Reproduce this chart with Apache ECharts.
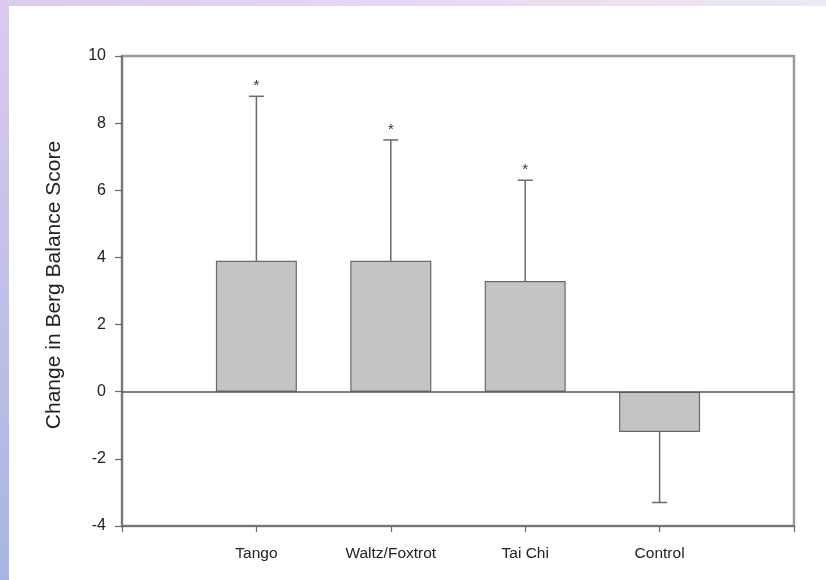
<!DOCTYPE html>
<html>
<head>
<meta charset="utf-8">
<script src="https://cdn.jsdelivr.net/npm/echarts@6/dist/echarts.min.js"></script>
<style>
  html, body { margin: 0; padding: 0; }
  #main { width: 826px; height: 580px; }
</style>
</head>
<body>
<div id="main"></div>
<script>
var categories = ['Tango', 'Waltz/Foxtrot', 'Tai Chi', 'Control'];
var positions = [1, 2, 3, 4];
var means = [3.9, 3.9, 3.3, -1.2];
var errorEnds = [8.8, 7.5, 6.3, -3.3];
var stars = ['*', '*', '*', ''];
var yTicks = [-4, -2, 0, 2, 4, 6, 8, 10];

var chart = echarts.init(document.getElementById('main'));

var barData = positions.map(function (p, i) { return [p, means[i]]; });
var errData = positions.map(function (p, i) { return [p, means[i], errorEnds[i], i]; });

chart.setOption({
    animation: false,
    backgroundColor: '#ffffff',
    graphic: [
        {
            type: 'rect', z: -10, silent: true,
            shape: {x: 0, y: 0, width: 9, height: 580},
            style: {fill: new echarts.graphic.LinearGradient(0, 0, 0, 1, [
                {offset: 0, color: '#dccaec'},
                {offset: 1, color: '#a6b6e2'}
            ])}
        },
        {
            type: 'rect', z: -10, silent: true,
            shape: {x: 0, y: 0, width: 826, height: 6},
            style: {fill: new echarts.graphic.LinearGradient(0, 0, 1, 0, [
                {offset: 0, color: '#dccaec'},
                {offset: 1, color: '#eee8f5'}
            ])}
        },
        // y axis title, placed by hand like the original
        {
            type: 'text', silent: true,
            x: 54, y: 285, rotation: Math.PI / 2,
            style: {
                text: 'Change in Berg Balance Score',
                align: 'center', verticalAlign: 'middle',
                fill: '#222', fontSize: 21, fontFamily: 'Liberation Sans, Arial'
            }
        }
    ],
    grid: {
        left: 122, right: 32, top: 56, bottom: 54,
        show: true, borderColor: '#9a9a9a', borderWidth: 2.5
    },
    xAxis: {
        type: 'value', min: 0, max: 5, interval: 1,
        axisLine: {onZero: false, lineStyle: {color: '#6a6a6a', width: 1.5}},
        axisTick: {show: true, inside: false, length: 6, lineStyle: {color: '#6a6a6a', width: 1.2}},
        splitLine: {show: false},
        axisLabel: {
            margin: 20, color: '#222', fontSize: 15.5, fontFamily: 'Liberation Sans, Arial',
            formatter: function (v) {
                var i = positions.indexOf(v);
                return i >= 0 ? categories[i] : '';
            }
        }
    },
    yAxis: {
        type: 'value', min: yTicks[0], max: yTicks[yTicks.length - 1], interval: 2,
        axisLine: {show: true, lineStyle: {color: '#6a6a6a', width: 1.5}},
        axisTick: {show: true, length: 7, lineStyle: {color: '#6a6a6a', width: 1.2}},
        splitLine: {show: false},
        axisLabel: {margin: 16, color: '#222', fontSize: 16, fontFamily: 'Liberation Sans, Arial'}
    },
    series: [
        {
            type: 'bar',
            data: barData,
            barWidth: 81,
            itemStyle: {color: '#c4c4c4', borderColor: '#6a6a6a', borderWidth: 1.2},
            markLine: {
                silent: true, symbol: 'none',
                label: {show: false},
                lineStyle: {color: '#555', width: 1.5, type: 'solid'},
                data: [{yAxis: 0}]
            }
        },
        {
            type: 'custom',
            data: errData,
            z: 3,
            renderItem: function (params, api) {
                var x = api.value(0);
                var base = api.coord([x, api.value(1)]);
                var end = api.coord([x, api.value(2)]);
                var idx = api.value(3);
                var children = [
                    {type: 'line', shape: {x1: base[0], y1: base[1], x2: end[0], y2: end[1]},
                        style: {stroke: '#6a6a6a', lineWidth: 1.5}},
                    {type: 'line', shape: {x1: end[0] - 7.5, y1: end[1], x2: end[0] + 7.5, y2: end[1]},
                        style: {stroke: '#6a6a6a', lineWidth: 1.5}}
                ];
                if (stars[idx]) {
                    children.push({
                        type: 'text',
                        style: {
                            text: stars[idx], x: end[0], y: end[1] - 3,
                            align: 'center', verticalAlign: 'bottom',
                            fill: '#333', fontSize: 15, fontFamily: 'Liberation Sans, Arial'
                        }
                    });
                }
                return {type: 'group', children: children};
            }
        }
    ]
});
</script>
</body>
</html>
